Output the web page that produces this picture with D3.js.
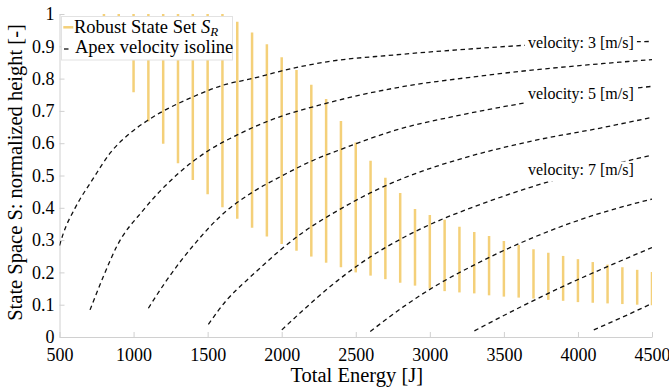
<!DOCTYPE html>
<html>
<head>
<meta charset="utf-8">
<script src="https://cdn.jsdelivr.net/npm/d3@7"></script>
</head>
<body style="margin:0">
<svg id="chart" width="669" height="391"></svg>
<script>
// robust state set: one vertical bar per energy level (low / high normalized height)
const energies = [800, 900, 1000, 1100, 1200, 1300, 1400, 1500, 1600, 1700, 1800, 1900,
    2000, 2100, 2200, 2300, 2400, 2500, 2600, 2700, 2800, 2900, 3000, 3100, 3200, 3300,
    3400, 3500, 3600, 3700, 3800, 3900, 4000, 4100, 4200, 4300, 4400, 4500];
const setLow = [0.96, 0.87, 0.758, 0.667, 0.598, 0.538, 0.486, 0.442, 0.402, 0.366, 0.338, 0.311,
    0.288, 0.267, 0.249, 0.230, 0.216, 0.200, 0.190, 0.179, 0.168, 0.159, 0.150, 0.142, 0.138, 0.135,
    0.129, 0.125, 0.122, 0.119, 0.115, 0.112, 0.108, 0.106, 0.104, 0.102, 0.100, 0.098];
const setHigh = [1, 1, 1, 1, 1, 1, 1, 1, 1, 0.976, 0.943, 0.906,
    0.866, 0.827, 0.781, 0.737, 0.669, 0.602, 0.546, 0.493, 0.446, 0.396, 0.378, 0.363, 0.341, 0.325,
    0.313, 0.297, 0.285, 0.272, 0.261, 0.251, 0.241, 0.232, 0.224, 0.216, 0.208, 0.201];

// apex velocity isolines, [energy, normalized height]
const iso3 = [[500, 0.283], [526, 0.321], [605, 0.399], [728, 0.491], [841, 0.569], [976, 0.631],
    [1100, 0.672], [1404, 0.744], [1607, 0.780], [1809, 0.801], [2001, 0.824], [2305, 0.852],
    [2755, 0.873], [3341, 0.894], [3634, 0.903], [4500, 0.915]];
const iso4 = [[706, 0.084], [796, 0.187], [886, 0.280], [1066, 0.393], [1292, 0.502], [1495, 0.574],
    [1697, 0.625], [1900, 0.667], [2305, 0.724], [2755, 0.770], [3341, 0.808], [4500, 0.859]];
const iso5 = [[1100, 0.089], [1224, 0.176], [1416, 0.290], [1584, 0.373], [1809, 0.450], [1990, 0.496],
    [2193, 0.543], [2418, 0.584], [2774, 0.641], [3206, 0.687], [3634, 0.724], [4377, 0.770], [4500, 0.776]];
const iso6 = [[1505, 0.039], [1630, 0.115], [1765, 0.176], [1877, 0.223], [1990, 0.269], [2147, 0.325],
    [2373, 0.390], [2598, 0.446], [2823, 0.492], [3049, 0.529], [3274, 0.560], [3724, 0.610],
    [4152, 0.647], [4500, 0.680]];
const iso7 = [[2001, 0.022], [2147, 0.084], [2373, 0.173], [2598, 0.248], [2823, 0.308], [3049, 0.358],
    [3274, 0.399], [3803, 0.481], [4377, 0.550], [4500, 0.563]];
const iso8 = [[2598, 0.017], [2823, 0.094], [3049, 0.161], [3274, 0.217], [3657, 0.300], [4107, 0.377],
    [4500, 0.427]];
const iso9 = [[3301, 0.019], [3544, 0.077], [3882, 0.153], [4220, 0.222], [4500, 0.277]];
const iso10 = [[4107, 0.022], [4332, 0.068], [4500, 0.104]];

const xTicks = [500, 1000, 1500, 2000, 2500, 3000, 3500, 4000, 4500];
const yTicks = [0, 0.1, 0.2, 0.3, 0.4, 0.5, 0.6, 0.7, 0.8, 0.9, 1];

const serif = '"Liberation Serif"';

const svg = d3.select("#chart");

const x = d3.scaleLinear().domain([500, 4500]).range([59.5, 652]);
const y = d3.scaleLinear().domain([0, 1]).range([337, 14]);

svg.append("defs").append("clipPath").attr("id", "plot")
    .append("rect")
    .attr("x", x(500)).attr("y", y(1))
    .attr("width", x(4500) - x(500)).attr("height", y(0) - y(1));

// axes (light grey, ticks pointing inwards)
const xAxis = svg.append("g")
    .attr("transform", `translate(0,${y(0)})`)
    .call(d3.axisBottom(x).tickValues(xTicks).tickFormat(d3.format("d"))
        .tickSizeInner(-5).tickSizeOuter(0).tickPadding(11));

const yAxis = svg.append("g")
    .attr("transform", `translate(${x(500)},0)`)
    .call(d3.axisLeft(y).tickValues(yTicks).tickFormat(d => String(d))
        .tickSizeInner(-5).tickSizeOuter(0).tickPadding(5));

[xAxis, yAxis].forEach(g => {
    g.attr("font-family", null).attr("font-size", null);
    g.selectAll(".domain, .tick line").attr("stroke", "#d0d0d0");
    g.selectAll("text")
        .attr("font-size", 18)
        .attr("fill", "#000")
        .style("font-family", serif);
});

// bars
svg.append("g")
    .attr("clip-path", "url(#plot)")
    .selectAll("line")
    .data(energies)
    .join("line")
    .attr("x1", d => x(d)).attr("x2", d => x(d))
    .attr("y1", (d, i) => y(setLow[i]))
    .attr("y2", (d, i) => y(setHigh[i]))
    .attr("stroke", "#f4d079")
    .attr("stroke-width", 2.5);

// isolines
const isolines = [iso3, iso4, iso5, iso6, iso7, iso8, iso9, iso10];
const line = d3.line()
    .x(d => x(d[0]))
    .y(d => y(d[1]))
    .curve(d3.curveMonotoneX);

svg.append("g")
    .attr("clip-path", "url(#plot)")
    .selectAll("path")
    .data(isolines)
    .join("path")
    .attr("d", line)
    .attr("fill", "none")
    .attr("stroke", "#111")
    .attr("stroke-width", 1.3)
    .attr("stroke-dasharray", "4.5,3.5");

// contour labels, each one breaks its line with a white patch
const labels = [
    {v: 3, e: 4020, s: 0.896},
    {v: 5, e: 4020, s: 0.738},
    {v: 7, e: 4020, s: 0.502}
];
const labelG = svg.append("g");
labelG.selectAll("rect")
    .data(labels)
    .join("rect")
    .attr("x", d => x(d.e) - 56).attr("y", d => y(d.s) - 13.3)
    .attr("width", 112).attr("height", 19.7)
    .attr("fill", "#fff");
labelG.selectAll("text")
    .data(labels)
    .join("text")
    .attr("x", d => x(d.e)).attr("y", d => y(d.s))
    .attr("text-anchor", "middle")
    .attr("font-size", 16)
    .style("font-family", serif)
    .text(d => `velocity: ${d.v} [m/s]`);

// axis titles
svg.append("text")
    .attr("x", (x(500) + x(4500)) / 2 + 1).attr("y", 381.7)
    .attr("text-anchor", "middle")
    .attr("font-size", 20.5)
    .style("font-family", serif)
    .text("Total Energy [J]");

svg.append("text")
    .attr("transform", "translate(22,172.5) rotate(-90)")
    .attr("text-anchor", "middle")
    .attr("font-size", 20.5)
    .style("font-family", serif)
    .text("State Space S: normalized height [-]");

// legend
const legend = svg.append("g");
legend.append("rect")
    .attr("x", 61.5).attr("y", 16.5)
    .attr("width", 171).attr("height", 43.5)
    .attr("fill", "#fff")
    .attr("stroke", "#e2e2e2");
legend.append("line")
    .attr("x1", 63.3).attr("x2", 73.3).attr("y1", 27.3).attr("y2", 27.3)
    .attr("stroke", "#f4d079").attr("stroke-width", 2.5);
legend.append("line")
    .attr("x1", 64).attr("x2", 68.5).attr("y1", 49).attr("y2", 49)
    .attr("stroke", "#111").attr("stroke-width", 1.3);
const t1 = legend.append("text")
    .attr("x", 74).attr("y", 32.5)
    .attr("font-size", 18.5)
    .style("font-family", serif);
t1.append("tspan").text("Robust State Set ");
t1.append("tspan").attr("font-style", "italic").text("S");
t1.append("tspan").attr("font-style", "italic").attr("font-size", 13)
    .attr("dy", 3).text("R");
legend.append("text")
    .attr("x", 75).attr("y", 52.5)
    .attr("font-size", 18.5)
    .style("font-family", serif)
    .text("Apex velocity isoline");
</script>
</body>
</html>
